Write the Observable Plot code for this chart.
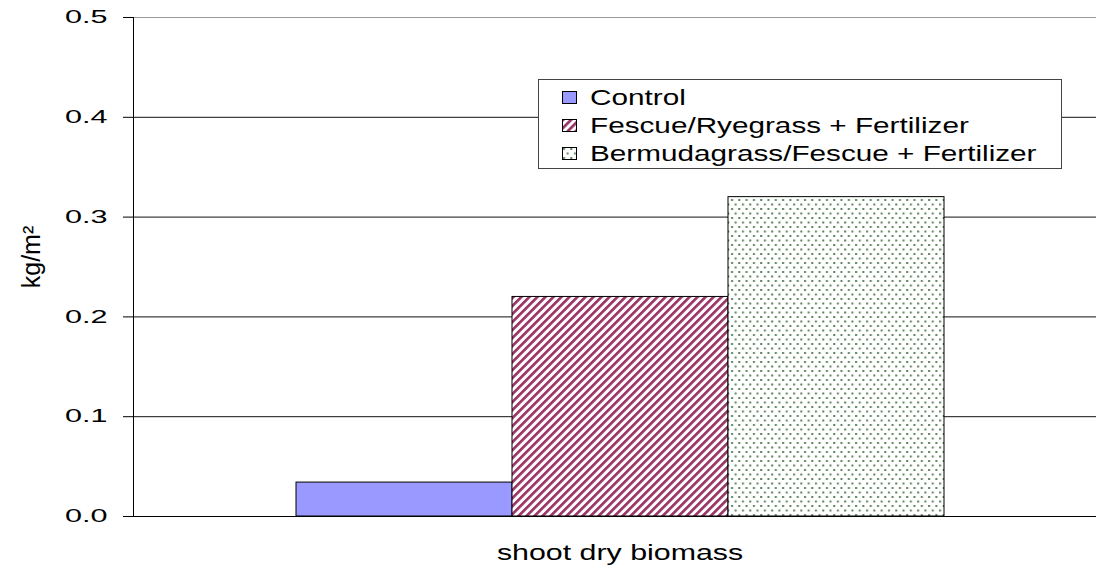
<!DOCTYPE html>
<html>
<head>
<meta charset="utf-8">
<script src="https://cdn.jsdelivr.net/npm/d3@7"></script>
<script src="https://cdn.jsdelivr.net/npm/@observablehq/plot@0.6"></script>
<style>
  html, body { margin: 0; padding: 0; background: #fff; overflow: hidden; }
  #wrap { position: relative; width: 1096px; height: 567px; font-family: 'Liberation Sans', Arial, sans-serif; }
  #legend { position: absolute; left: 538px; top: 79px; width: 524px; height: 90px; border: 1px solid #444; background: #fff; box-sizing: border-box; padding-top: 4px; }
  .row { position: relative; height: 28px; line-height: 28px; font-size: 22px; color: #000; }
  .sw { position: absolute; left: 23px; top: 7px; width: 15px; height: 13px; }
  .lbl { position: absolute; left: 51px; top: 0; display: inline-block; white-space: nowrap; transform: scaleX(1.35); transform-origin: 0 50%; }
</style>
</head>
<body>
<svg width="0" height="0" style="position:absolute">
  <defs>
    <pattern id="hatch" patternUnits="userSpaceOnUse" width="5.66" height="5.66" patternTransform="rotate(45)">
      <rect width="5.66" height="5.66" fill="#ffffff"></rect>
      <rect width="2.7" height="5.66" fill="#993366"></rect>
    </pattern>
    <pattern id="dots" patternUnits="userSpaceOnUse" width="7.3" height="9">
      <rect width="7.3" height="9" fill="#ffffff"></rect>
      <rect x="1" y="1" width="2" height="2" fill="#5f845f"></rect>
      <rect x="4.65" y="5.5" width="2" height="2" fill="#5f845f"></rect>
    </pattern>
  </defs>
</svg>
<div id="wrap"></div>
<script>
// ---- data ----
const category = "shoot dry biomass";
const series = ["Control", "Fescue/Ryegrass + Fertilizer", "Bermudagrass/Fescue + Fertilizer"];
const values = [0.034, 0.22, 0.32];
const fills = ["#9999ff", "url(#hatch)", "url(#dots)"];
const yTicks = [0, 0.1, 0.2, 0.3, 0.4, 0.5];
const yLabel = "kg/m²";

const data = series.map((s, i) => ({ group: category, series: s, value: values[i] }));

const chart = Plot.plot({
  width: 1096,
  height: 567,
  marginLeft: 133,
  marginRight: 0,
  marginTop: 17,
  marginBottom: 51,
  style: { fontFamily: "'Liberation Sans', Arial, sans-serif", background: "#fff", color: "#000" },
  fx: { domain: [category], padding: 0 },
  x: { domain: series, paddingInner: 0, paddingOuter: 0.729, align: 0.517, axis: null },
  y: { domain: [0, 0.5] },
  color: { domain: series, range: fills },
  marks: [
    Plot.ruleY(yTicks.filter(t => t > 0 && t < 0.5), { stroke: "#111", strokeWidth: 1 }),
    Plot.ruleY(yTicks.filter(t => t === 0.5), { stroke: "#9a9a9a", strokeWidth: 1 }),
    Plot.barY(data, { fx: "group", x: "series", y: "value", fill: "series", stroke: "#000", strokeWidth: 1 }),
    Plot.ruleY([0], { stroke: "#000", strokeWidth: 1 }),
    Plot.frame({ anchor: "left", stroke: "#000" }),
    Plot.axisY({ ticks: yTicks, tickFormat: d3.format(".1f"), tickSize: 10, tickPadding: 16, fontSize: 18,
                 label: null, stroke: "#000" }),
    Plot.text([yLabel], { frameAnchor: "left", textAnchor: "middle", rotate: -90, dx: -102, dy: -10, fontSize: 25, fill: "#000" }),
    Plot.axisFx({ anchor: "bottom", tickSize: 0, tickPadding: 28, dx: 5, fontSize: 22, label: null })
  ]
});

document.getElementById("wrap").appendChild(chart);

// widen text horizontally (the reference is stretched)
function stretch(sel, s) {
  d3.select(chart).selectAll(sel).each(function () {
    const t = this.getAttribute("transform") || "";
    if (t.includes("rotate")) return;
    const x = +this.getAttribute("x") || 0, y = +this.getAttribute("y") || 0;
    this.setAttribute("transform", `${t} translate(${x},${y}) scale(${s},1) translate(${-x},${-y})`);
  });
}
stretch('g[aria-label="y-axis tick label"] text', 1.7);
stretch('g[aria-label="fx-axis tick label"] text', 1.38);

// legend
const legend = document.createElement("div");
legend.id = "legend";
series.forEach((s, i) => {
  const row = document.createElement("div");
  row.className = "row";
  row.innerHTML = `<svg class="sw" width="15" height="13"><rect x="0.5" y="0.5" width="14" height="12" fill="${fills[i]}" stroke="#000"></rect></svg><span class="lbl"></span>`;
  row.querySelector(".lbl").textContent = s;
  legend.appendChild(row);
});
document.getElementById("wrap").appendChild(legend);
</script>
</body>
</html>
